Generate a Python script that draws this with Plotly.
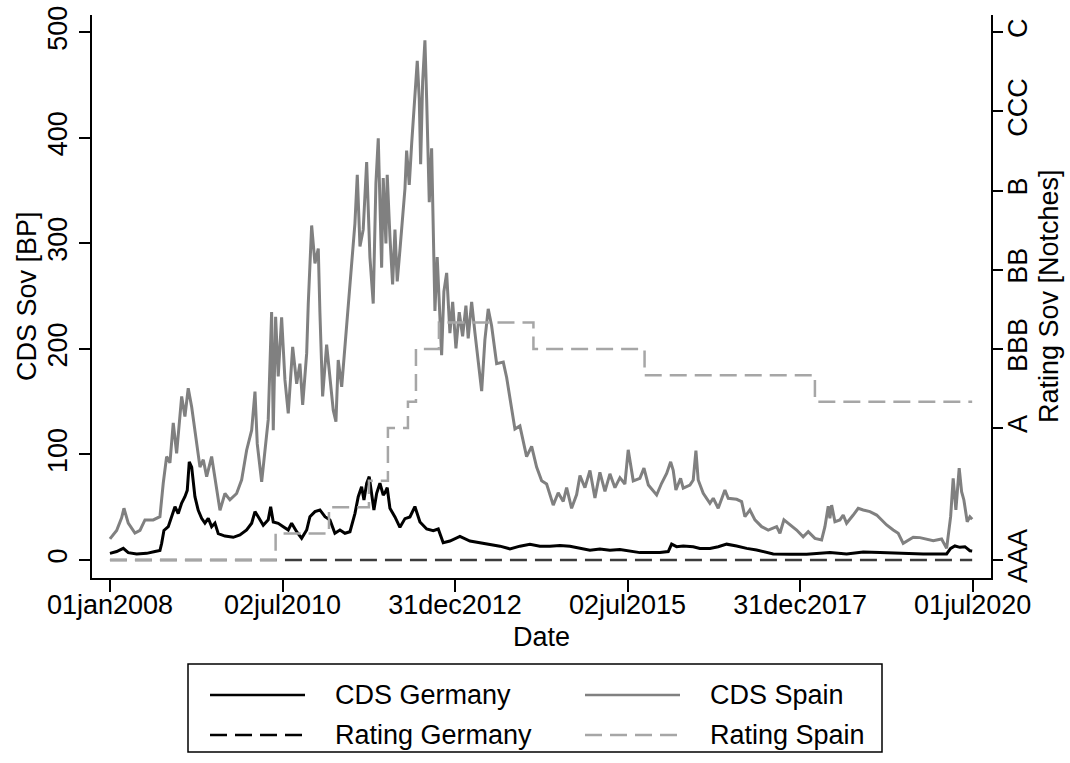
import pandas as pd
import plotly.graph_objects as go

# ---------------- data (decimal years) ----------------
spain_t = [
    2008.000, 2008.097, 2008.169, 2008.203, 2008.265, 2008.362, 2008.435, 2008.507, 2008.627, 2008.724,
    2008.772, 2008.821, 2008.869, 2008.917, 2008.966, 2009.039, 2009.086, 2009.134, 2009.184, 2009.256,
    2009.304, 2009.352, 2009.401, 2009.473, 2009.521, 2009.594, 2009.666, 2009.738, 2009.835, 2009.908,
    2009.980, 2010.053, 2010.101, 2010.134, 2010.198, 2010.245, 2010.293, 2010.342, 2010.366, 2010.400,
    2010.438, 2010.487, 2010.535, 2010.583, 2010.647, 2010.705, 2010.752, 2010.792, 2010.850, 2010.873,
    2010.922, 2010.970, 2011.018, 2011.042, 2011.081, 2011.139, 2011.187, 2011.235, 2011.274, 2011.307,
    2011.357, 2011.404, 2011.452, 2011.501, 2011.549, 2011.583, 2011.622, 2011.669, 2011.719, 2011.766,
    2011.814, 2011.853, 2011.887, 2011.936, 2011.959, 2011.998, 2012.017, 2012.056, 2012.095, 2012.129,
    2012.162, 2012.201, 2012.240, 2012.274, 2012.298, 2012.336, 2012.371, 2012.418, 2012.452, 2012.481,
    2012.501, 2012.530, 2012.563, 2012.588, 2012.626, 2012.660, 2012.684, 2012.708, 2012.741, 2012.781,
    2012.805, 2012.838, 2012.878, 2012.925, 2012.965, 2013.012, 2013.060, 2013.109, 2013.157, 2013.190,
    2013.240, 2013.288, 2013.335, 2013.385, 2013.432, 2013.480, 2013.529, 2013.602, 2013.698, 2013.747,
    2013.819, 2013.867, 2013.939, 2013.987, 2014.036, 2014.109, 2014.181, 2014.254, 2014.326, 2014.422,
    2014.494, 2014.567, 2014.616, 2014.688, 2014.761, 2014.809, 2014.881, 2014.954, 2015.026, 2015.098,
    2015.171, 2015.243, 2015.316, 2015.388, 2015.460, 2015.508, 2015.581, 2015.677, 2015.736, 2015.800,
    2015.920, 2015.992, 2016.065, 2016.123, 2016.160, 2016.199, 2016.267, 2016.305, 2016.402, 2016.450,
    2016.489, 2016.522, 2016.595, 2016.692, 2016.740, 2016.812, 2016.909, 2016.957, 2017.079, 2017.151,
    2017.199, 2017.271, 2017.344, 2017.441, 2017.536, 2017.658, 2017.706, 2017.764, 2017.851, 2017.948,
    2018.043, 2018.116, 2018.213, 2018.310, 2018.358, 2018.406, 2018.430, 2018.455, 2018.503, 2018.575,
    2018.623, 2018.672, 2018.768, 2018.840, 2018.913, 2019.010, 2019.107, 2019.179, 2019.252, 2019.347,
    2019.420, 2019.492, 2019.565, 2019.637, 2019.734, 2019.831, 2019.927, 2020.048, 2020.121, 2020.179,
    2020.216, 2020.255, 2020.303, 2020.338, 2020.371, 2020.419, 2020.458, 2020.491,
]
spain_cds = [
    20, 28, 40, 49, 35, 25.5, 28, 38, 38, 41,
    72.7, 98, 92, 130, 101, 155, 136, 162.7, 145, 110,
    88, 95, 79, 98, 79, 47, 63, 57, 63, 76,
    104, 123, 159.5, 110, 74, 104, 133, 235, 123, 230.5,
    174, 230, 170.6, 139, 202, 167, 186, 147, 196, 243,
    317, 281, 295, 234, 155, 204, 174, 142, 131, 189.5,
    164, 202, 243, 281, 319, 365, 297, 313, 377, 287,
    243, 357, 399.6, 277, 362, 300, 365, 306.5, 261, 313,
    264, 293.6, 323, 352, 388, 355.5, 394.6, 447, 473, 437,
    375, 453, 492.5, 437, 339, 390, 293.6, 236, 287, 225,
    194, 254.4, 272, 215, 244.6, 200.6, 234.8, 212, 241, 210,
    244.6, 215, 189, 160, 208.8, 238, 222, 186, 187.5, 173,
    143.5, 124, 127, 114, 98, 107.6, 88, 75, 72, 52,
    63.7, 55.5, 68.5, 49, 62, 80, 68.5, 84.8, 58.8, 83,
    65, 81.6, 68.5, 78, 72, 104.4, 75, 77.4, 87, 71,
    61.6, 72.7, 82, 93, 85, 66.3, 77.4, 68, 71, 75.8,
    103.6, 75.8, 63.2, 53.7, 58.5, 49, 66.3, 58.5, 57.5, 55.3,
    41, 47.4, 38, 31.6, 28.4, 31.6, 25.3, 38, 33.2, 28.4,
    22, 26.8, 20.5, 19, 31.6, 51, 39.5, 52, 36.3, 38,
    42.6, 34.8, 42.6, 49, 47.4, 45.8, 42.6, 38, 33.2, 28.4,
    25.3, 15.8, 19, 21.5, 21.2, 19.6, 18.3, 19.9, 11, 41,
    77.4, 47.4, 87, 64.7, 56.9, 36.3, 41, 38.6,
]

germany_t = [
    2008.000, 2008.097, 2008.193, 2008.265, 2008.387, 2008.532, 2008.652, 2008.724, 2008.749, 2008.782,
    2008.845, 2008.894, 2008.942, 2008.989, 2009.039, 2009.086, 2009.120, 2009.149, 2009.184, 2009.231,
    2009.279, 2009.328, 2009.376, 2009.424, 2009.473, 2009.521, 2009.569, 2009.666, 2009.786, 2009.883,
    2009.980, 2010.053, 2010.101, 2010.148, 2010.221, 2010.293, 2010.328, 2010.366, 2010.438, 2010.511,
    2010.583, 2010.632, 2010.705, 2010.777, 2010.850, 2010.897, 2010.970, 2011.042, 2011.115, 2011.187,
    2011.259, 2011.332, 2011.404, 2011.477, 2011.549, 2011.597, 2011.646, 2011.680, 2011.719, 2011.756,
    2011.791, 2011.824, 2011.864, 2011.911, 2011.959, 2011.984, 2012.017, 2012.056, 2012.129, 2012.201,
    2012.274, 2012.346, 2012.418, 2012.491, 2012.588, 2012.684, 2012.756, 2012.828, 2012.925, 2013.070,
    2013.215, 2013.360, 2013.505, 2013.650, 2013.795, 2013.939, 2014.084, 2014.229, 2014.374, 2014.519,
    2014.664, 2014.809, 2014.954, 2015.098, 2015.243, 2015.388, 2015.533, 2015.678, 2015.968, 2016.088,
    2016.137, 2016.209, 2016.305, 2016.450, 2016.547, 2016.692, 2016.812, 2016.934, 2017.079, 2017.224,
    2017.368, 2017.513, 2017.609, 2017.851, 2018.093, 2018.285, 2018.430, 2018.672, 2018.913, 2019.155,
    2019.444, 2019.782, 2020.121, 2020.179, 2020.241, 2020.314, 2020.386, 2020.458, 2020.491,
]
germany_cds = [
    6.3, 8, 11, 7, 5.7, 6.3, 8, 9, 15.8, 28,
    31.5, 41, 50.5, 44, 54, 60, 66, 93, 88, 60,
    47, 39.5, 35, 39.5, 31.6, 35, 25, 22.7, 21.5, 23.7,
    28.4, 34.8, 45.8, 41, 33, 38, 50.5, 36, 34.8, 31.6,
    28.4, 34.8, 26.8, 20.5, 28.4, 41, 45.8, 47.4, 41, 38,
    25.3, 28.4, 25.3, 26.8, 44, 60, 69.5, 56.9, 72.7, 79,
    60, 47.4, 63.2, 72.7, 61.6, 63.7, 68.5, 49, 40.8, 31,
    39.2, 40.8, 50.6, 36, 29.4, 27.8, 29.4, 16.4, 18, 22.3,
    18, 16.4, 14.8, 13.1, 10.5, 13.1, 14.8, 13.1, 13.1, 13.7,
    13.1, 11.5, 9.2, 10.5, 9.2, 9.9, 8.2, 7, 7, 8,
    15, 12.6, 13.3, 12.6, 11, 11, 12.6, 15, 13.3, 11,
    9.5, 7, 5.7, 5.4, 5.4, 6.3, 7, 5.7, 7.6, 7,
    6.3, 5.7, 5.7, 11, 13.3, 12, 12.6, 8.8, 8.5,
]

spain_rating_t = [2008.000, 2010.400, 2011.173, 2011.752, 2012.027, 2012.317, 2012.433,
                  2012.766, 2014.135, 2015.745, 2018.213, 2020.491]
spain_rating = [0, 1, 2, 3, 5, 6, 8, 9, 8, 7, 6, 6]
germany_rating_t = [2008.000, 2020.491]
germany_rating = [0, 0]

x_tick_dates = ["2008-01-01", "2010-07-02", "2012-12-31", "2015-07-02", "2017-12-31", "2020-07-01"]
x_tick_text = ["01jan2008", "02jul2010", "31dec2012", "02jul2015", "31dec2017", "01jul2020"]
cds_ticks = [0, 100, 200, 300, 400, 500]
rating_ticks = [0, 5, 8, 11, 14, 17, 20]
rating_text = ["AAA", "A", "BBB", "BB", "B", "CCC", "C"]


def to_dates(ts):
    base = pd.Timestamp("2008-01-01")
    return [base + pd.Timedelta(days=(t - 2008.0) * 365.25) for t in ts]


FONT = "Liberation Sans, Arial, sans-serif"
FS = 27
W, H = 1070, 763
L, R, T, B = 92, 79, 15, 185
PW, PH = W - L - R, H - T - B

C_SPAIN = "#808080"
C_SPAIN_R = "#a6a6a6"
C_GER_R = "#3c3c3c"
DASH = "17px,8px"
LW = 3

fig = go.Figure()
fig.add_trace(go.Scatter(x=to_dates(germany_rating_t), y=germany_rating, yaxis="y2", mode="lines",
                         line=dict(color=C_GER_R, width=2.5, dash=DASH), line_shape="hv",
                         name="Rating Germany", showlegend=False))
fig.add_trace(go.Scatter(x=to_dates(spain_rating_t), y=spain_rating, yaxis="y2", mode="lines",
                         line=dict(color=C_SPAIN_R, width=2.5, dash=DASH), line_shape="hv",
                         name="Rating Spain", showlegend=False))
fig.add_trace(go.Scatter(x=to_dates(spain_t), y=spain_cds, mode="lines",
                         line=dict(color=C_SPAIN, width=LW), name="CDS Spain", showlegend=False))
fig.add_trace(go.Scatter(x=to_dates(germany_t), y=germany_cds, mode="lines",
                         line=dict(color="black", width=LW), name="CDS Germany", showlegend=False))

y_lo, y_hi = -17.06, 516.4

axis_common = dict(showline=True, linecolor="black", linewidth=1.5, ticks="outside",
                   tickcolor="black", tickwidth=1.5, showgrid=False, zeroline=False,
                   tickfont=dict(family=FONT, size=FS, color="black"))

fig.update_layout(
    width=W, height=H,
    margin=dict(l=L, r=R, t=T, b=B, autoexpand=False),
    paper_bgcolor="white", plot_bgcolor="white",
    font=dict(family=FONT, size=FS, color="black"),
    showlegend=False,
    xaxis=dict(type="date", range=["2007-09-28", "2020-10-06"],
               tickvals=x_tick_dates, ticktext=x_tick_text, ticklen=12, tickangle=0,
               ticklabelstandoff=-10, **axis_common),
    yaxis=dict(range=[y_lo, y_hi], tickvals=cds_ticks, ticktext=[str(v) for v in cds_ticks],
               ticklen=11, tickangle=-90, ticklabelstandoff=1, **axis_common),
    yaxis2=dict(range=[y_lo / 25, y_hi / 25], overlaying="y", side="right",
                tickvals=rating_ticks, ticktext=rating_text, ticklen=10, tickangle=-90,
                ticklabelstandoff=-8, **axis_common),
)


def px(xp):
    return (xp - L) / PW


def py(yp):
    return (H - B - yp) / PH


annos = [
    dict(text="Date", x=px(541), y=py(637)),
    dict(text="CDS Sov [BP]", x=px(27), y=py(296), textangle=-90),
    dict(text="Rating Sov [Notches]", x=px(1049), y=py(296), textangle=-90),
]
for a in annos:
    fig.add_annotation(xref="paper", yref="paper", showarrow=False, xanchor="center", yanchor="middle",
                       font=dict(family=FONT, size=FS, color="black"), **a)

# legend box
fig.add_shape(type="rect", xref="paper", yref="paper", x0=px(188), x1=px(882), y0=py(664), y1=py(752),
              line=dict(color="black", width=1.5), fillcolor="white")
legend_items = [
    ("CDS Germany", "black", "solid", 210, 305, 333, 695),
    ("CDS Spain", C_SPAIN, "solid", 585, 680, 708, 695),
    ("Rating Germany", "black", DASH, 210, 305, 333, 735),
    ("Rating Spain", C_SPAIN_R, DASH, 585, 680, 708, 735),
]
for name, col, dash, lx0, lx1, tx, ty in legend_items:
    fig.add_shape(type="line", xref="paper", yref="paper", x0=px(lx0), x1=px(lx1), y0=py(ty), y1=py(ty),
                  line=dict(color=col, width=2.5, dash=dash))
    fig.add_annotation(xref="paper", yref="paper", showarrow=False, xanchor="left", yanchor="middle",
                       x=px(tx), y=py(ty), text=name, font=dict(family=FONT, size=FS, color="black"))

fig.write_html("out.html", config={"displayModeBar": False},
               post_script="document.body.style.margin='0';document.body.style.overflow='hidden';")
